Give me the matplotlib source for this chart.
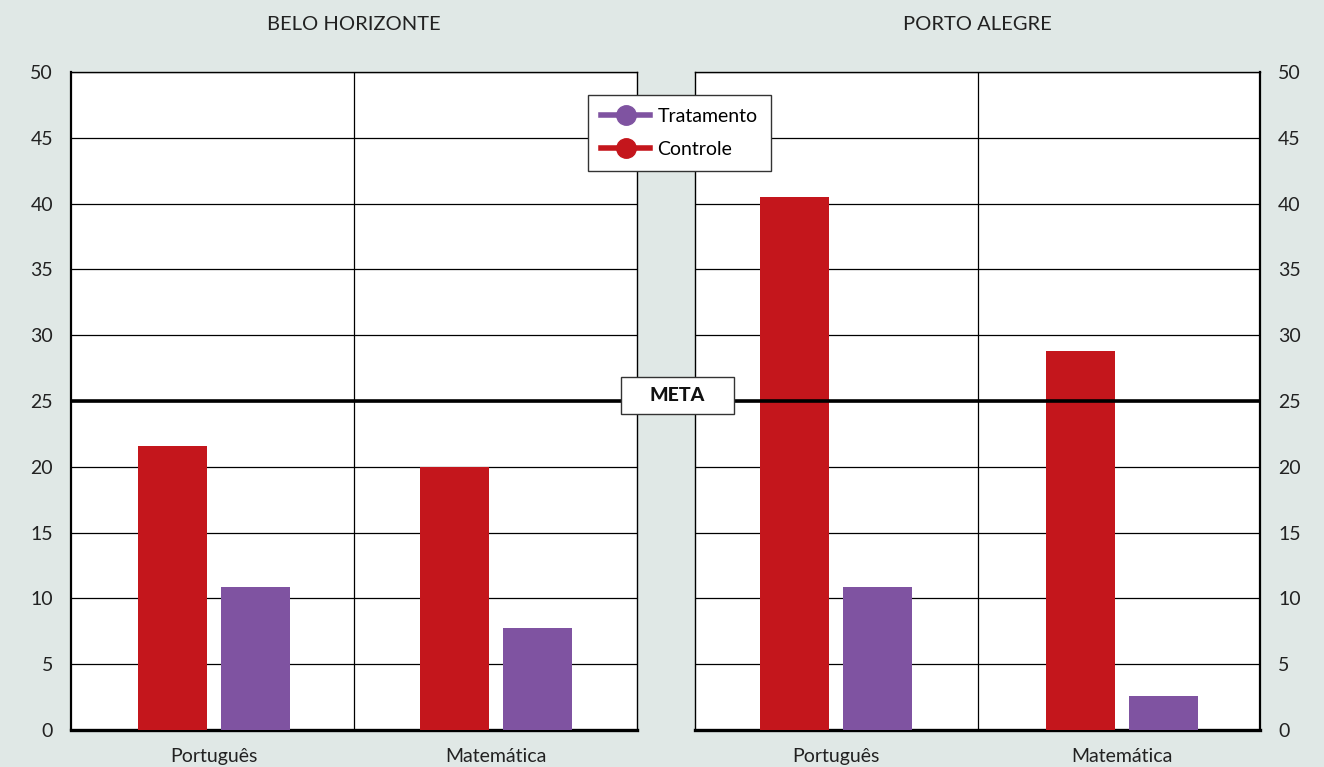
import matplotlib
matplotlib.use("Agg")
import matplotlib.pyplot as plt
import matplotlib.transforms as mtransforms
from matplotlib.lines import Line2D
from matplotlib.patches import Rectangle
import numpy as np

plt.rcParams['font.family'] = ['Lato', 'DejaVu Sans']

# Dados
cidades = ["BELO HORIZONTE", "PORTO ALEGRE"]
disciplinas = ["Português", "Matemática"]
controle = {"BELO HORIZONTE": [21.6, 20.0], "PORTO ALEGRE": [40.5, 28.8]}
tratamento = {"BELO HORIZONTE": [10.9, 7.75], "PORTO ALEGRE": [10.9, 2.6]}
meta = 25
yticks = [0, 5, 10, 15, 20, 25, 30, 35, 40, 45, 50]

cor_controle = "#C4161C"
cor_tratamento = "#7F53A1"
fundo = "#E0E8E6"
cor_texto = "#222222"

W, H = 1324, 767
fig = plt.figure(figsize=(W / 100, H / 100), dpi=100, facecolor=fundo)


def px(x0, y0, x1, y1):
    # converte pixels (topo-esquerda) para fração da figura
    return [x0 / W, 1 - y1 / H, (x1 - x0) / W, (y1 - y0) / H]


ax1 = fig.add_axes(px(71, 72, 637, 730))
ax2 = fig.add_axes(px(695, 72, 1260, 730))

largura = 0.244
desloc = 0.147
# centro de cada grupo em cada painel
centros = {"BELO HORIZONTE": [0.505, 1.502], "PORTO ALEGRE": [0.499, 1.511]}

for ax, cidade in zip([ax1, ax2], cidades):
    x = np.array(centros[cidade])
    ax.set_facecolor("white")
    ax.bar(x - desloc, controle[cidade], width=largura, color=cor_controle, zorder=3)
    ax.bar(x + desloc, tratamento[cidade], width=largura, color=cor_tratamento, zorder=3)
    ax.set_xlim(0, 2)
    ax.set_ylim(0, 50)
    ax.set_yticks(yticks)
    ax.set_xticks(x)
    ax.set_xticklabels(disciplinas, fontsize=14, color=cor_texto)
    ax.tick_params(axis="both", length=0, labelsize=14, colors=cor_texto)
    ax.tick_params(axis="x", pad=13)
    ax.tick_params(axis="y", pad=13)
    ax.grid(axis="y", color="black", linewidth=0.9, zorder=1)
    ax.axvline(1, color="black", linewidth=0.9, zorder=1)
    ax.axhline(meta, color="black", linewidth=2.6, zorder=4)
    for s in ax.spines.values():
        s.set_color("black")
        s.set_linewidth(1.0)
    ax.spines["bottom"].set_linewidth(2.4)
    ax.set_title(cidade, fontsize=14.5, color=cor_texto, pad=30)

ax1.spines["left"].set_linewidth(1.6)
ax2.spines["right"].set_linewidth(1.6)
ax2.yaxis.tick_right()

# linha da meta atravessando o espaço entre os painéis
trans = mtransforms.blended_transform_factory(fig.transFigure, ax1.transData)
fig.add_artist(Line2D([637 / W, 695 / W], [meta, meta], transform=trans,
                      color="black", linewidth=2.6, zorder=4))

# caixa META
r = px(621, 377, 734, 414)
fig.add_artist(Rectangle((r[0], r[1]), r[2], r[3], transform=fig.transFigure,
                         facecolor="white", edgecolor="#333333", linewidth=1.0, zorder=5))
fig.text(r[0] + r[2] / 2, r[1] + r[3] / 2, "META", ha="center", va="center",
         fontsize=14, fontweight="black", color="#111111", zorder=6)

# legenda
handles = [
    Line2D([], [], color=cor_tratamento, linewidth=4, marker="o", markersize=14),
    Line2D([], [], color=cor_controle, linewidth=4, marker="o", markersize=14),
]
fig.legend(handles, ["Tratamento", "Controle"], loc="upper left",
           bbox_to_anchor=(588 / W, 1 - 95 / H), frameon=True, fancybox=False,
           edgecolor="#333333", framealpha=1, fontsize=14, handlelength=2.5,
           handletextpad=0.4, borderpad=0.68, labelspacing=0.8,
           borderaxespad=0)

fig.savefig("out.png", dpi=100, facecolor=fundo)
